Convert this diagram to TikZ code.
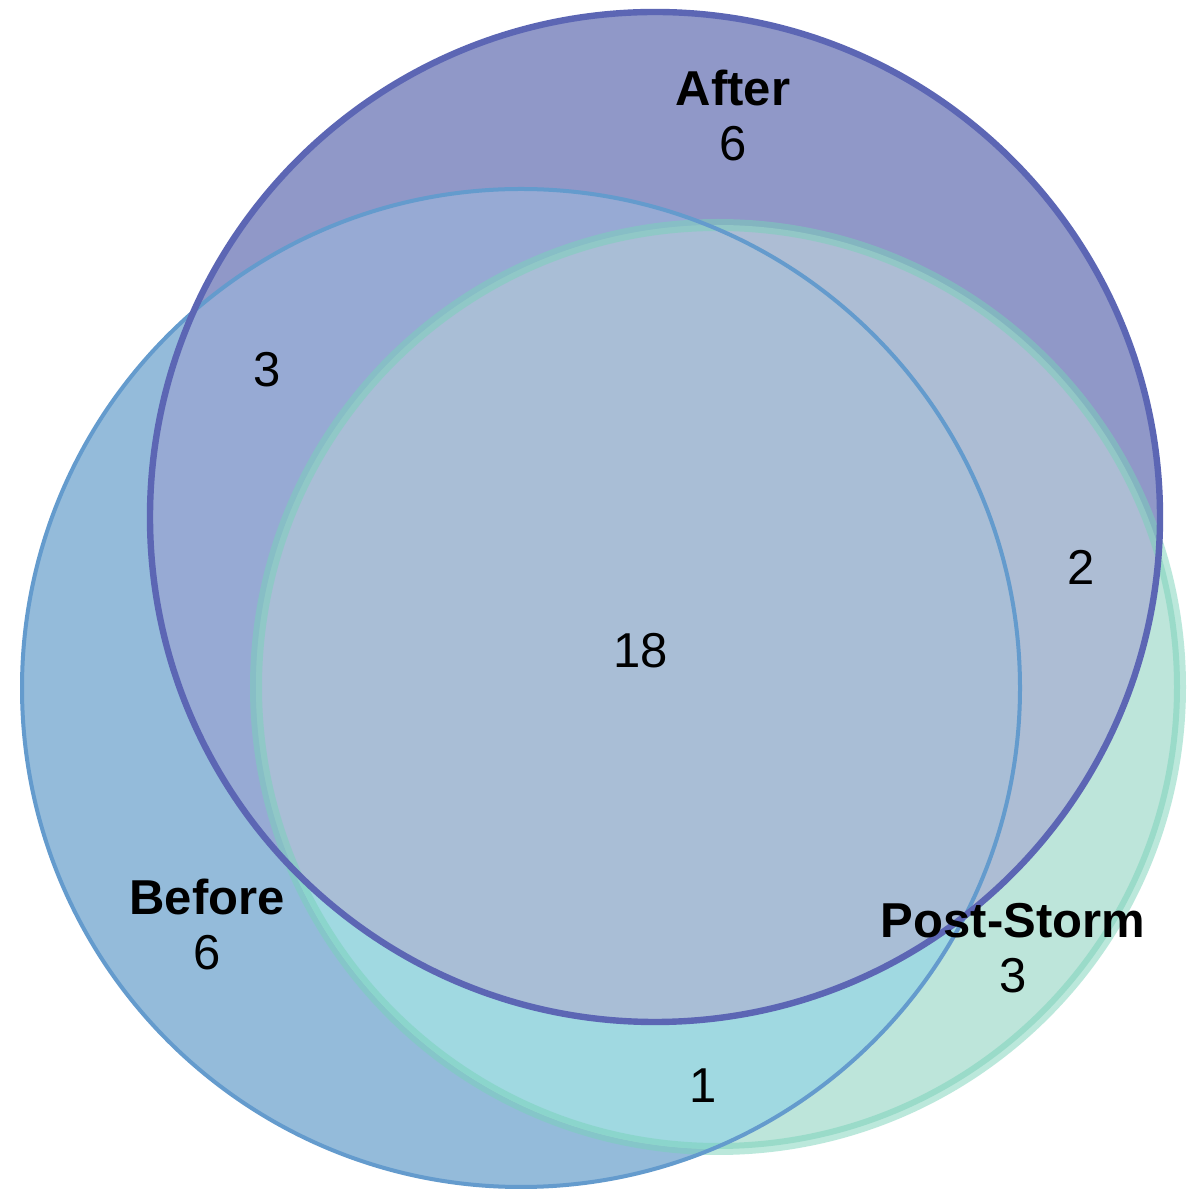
\documentclass[tikz,border=0pt]{standalone}
\usepackage{fontspec}
\setmainfont{Liberation Sans}
\definecolor{aonly}{RGB}{144,152,200}
\definecolor{bonly}{RGB}{148,187,218}
\definecolor{ponly}{RGB}{189,229,218}
\definecolor{bp}{RGB}{160,217,225}
\definecolor{ab}{RGB}{151,170,212}
\definecolor{ap}{RGB}{173,189,212}
\definecolor{abp}{RGB}{169,190,214}
\definecolor{aline}{RGB}{92,102,180}
\definecolor{bline}{RGB}{100,155,205}
\definecolor{pline}{RGB}{120,210,185}
\tikzset{
  lbl/.style={anchor=base, inner sep=0pt, font=\fontsize{24.5}{29}\selectfont\bfseries},
  num/.style={anchor=base, inner sep=0pt, font=\fontsize{24.5}{29}\selectfont},
}
\newcommand{\circA}{(655,683) circle[radius=505]}
\newcommand{\circB}{(521,512) circle[radius=499]}
\newcommand{\circP}{(718,513) circle[radius=462]}
\begin{document}
\begin{tikzpicture}[x=0.5pt,y=0.5pt]
\useasboundingbox (0,0) rectangle (1200,1200);
\fill[white] (0,0) rectangle (1200,1200);
% single fills
\fill[bonly] \circB;
\fill[ponly] \circP;
\begin{scope}
  \clip \circB;
  \fill[bp] \circP;
\end{scope}
\fill[aonly] \circA;
\begin{scope}
  \clip \circA;
  \fill[ab] \circB;
  \fill[ap] \circP;
  \clip \circB;
  \fill[abp] \circP;
\end{scope}
% outlines
\draw[pline, line width=6, opacity=0.5] \circP;
\draw[bline, line width=2] \circB;
\draw[aline, line width=3.2] \circA;
% labels
\node[lbl] (tA) at (733,1094) {After};
\node[num] (nA) at (733,1039) {6};
\node[lbl] (tB) at (207,285) {Before};
\node[num] (nB) at (207,230) {6};
\node[lbl] (tP) at (1013,262) {Post-Storm};
\node[num] (nP) at (1013,207) {3};
\node[num] (nAB) at (267,813) {3};
\node[num] (nAP) at (1081,615) {2};
\node[num] (nABP) at (641,532) {18};
\node[num] (nBP) at (703,97) {1};
\end{tikzpicture}
\end{document}
